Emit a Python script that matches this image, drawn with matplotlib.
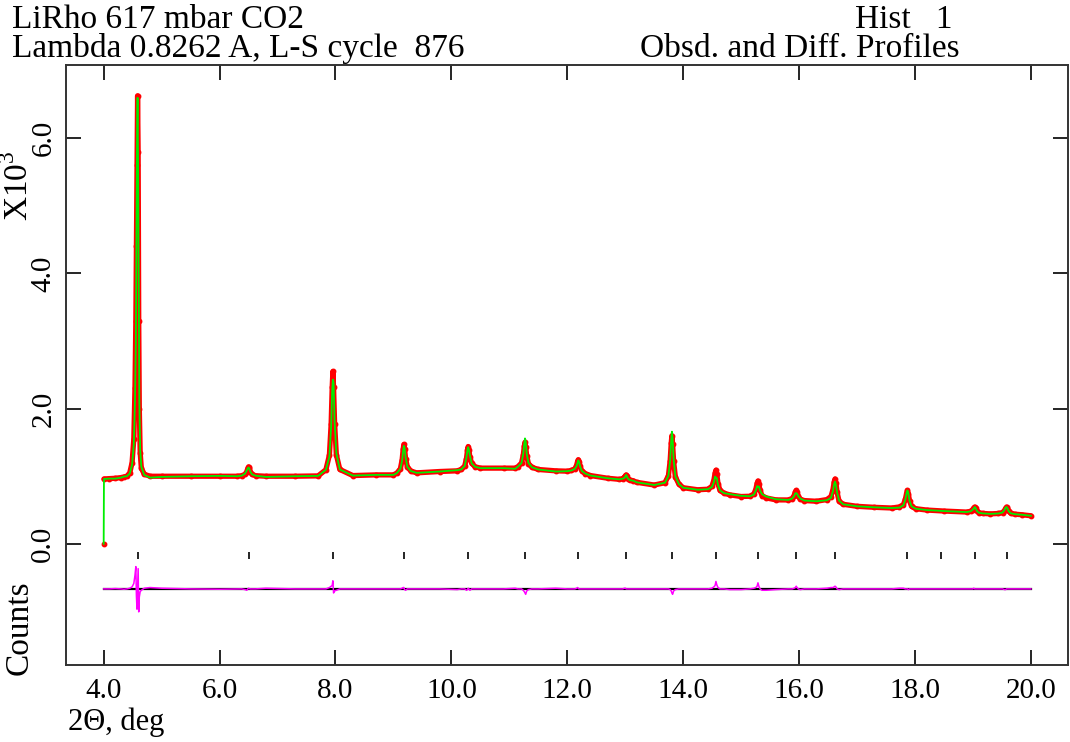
import matplotlib
matplotlib.use("Agg")
import matplotlib.pyplot as plt
from matplotlib.ticker import FixedLocator, FormatStrFormatter

plt.rcParams['font.family'] = ['Liberation Serif', 'DejaVu Serif']
plt.rcParams['mathtext.fontset'] = 'custom'
plt.rcParams['mathtext.rm'] = 'Liberation Serif'

# 2theta (deg), observed counts (x10^3), obs - calc
two_theta = [
    4.000, 4.005, 4.100, 4.200, 4.300, 4.350, 4.400, 4.450, 4.490, 4.520,
    4.540, 4.555, 4.565, 4.575, 4.585, 4.595, 4.605, 4.615, 4.630, 4.650,
    4.700, 4.800, 5.000, 5.500, 6.000, 6.300, 6.380, 6.440, 6.470, 6.488,
    6.500, 6.512, 6.530, 6.560, 6.620, 6.800, 7.300, 7.700, 7.835, 7.895,
    7.925, 7.943, 7.955, 7.967, 7.985, 8.015, 8.075, 8.300, 8.700, 9.000,
    9.060, 9.120, 9.150, 9.168, 9.180, 9.192, 9.210, 9.240, 9.300, 9.400,
    9.800, 10.100, 10.170, 10.230, 10.260, 10.278, 10.290, 10.302, 10.320, 10.350,
    10.410, 10.500, 10.900, 11.100, 11.150, 11.210, 11.240, 11.258, 11.270, 11.282,
    11.300, 11.330, 11.390, 11.500, 11.800, 12.000, 12.070, 12.130, 12.160, 12.178,
    12.190, 12.202, 12.220, 12.250, 12.310, 12.400, 12.700, 12.896, 12.956, 12.986,
    13.004, 13.016, 13.028, 13.046, 13.076, 13.136, 13.200, 13.500, 13.685, 13.745,
    13.775, 13.793, 13.805, 13.817, 13.835, 13.865, 13.925, 14.000, 14.250, 14.425,
    14.495, 14.529, 14.550, 14.565, 14.580, 14.601, 14.635, 14.705, 14.800, 15.000,
    15.150, 15.220, 15.254, 15.275, 15.290, 15.305, 15.326, 15.360, 15.430, 15.600,
    15.810, 15.880, 15.914, 15.935, 15.950, 15.965, 15.986, 16.020, 16.090, 16.300,
    16.480, 16.550, 16.584, 16.605, 16.620, 16.635, 16.656, 16.690, 16.760, 17.000,
    17.300, 17.600, 17.730, 17.800, 17.834, 17.855, 17.870, 17.885, 17.906, 17.940,
    18.010, 18.200, 18.500, 18.890, 18.960, 18.994, 19.015, 19.030, 19.045, 19.066,
    19.100, 19.170, 19.300, 19.440, 19.510, 19.544, 19.565, 19.580, 19.595, 19.616,
    19.650, 19.720, 19.850, 20.000,
]
obs = [
    0.000, 0.960, 0.965, 0.970, 0.980, 0.990, 1.000, 1.050, 1.200, 1.550,
    2.300, 3.300, 4.400, 5.600, 6.630, 5.800, 3.300, 2.000, 1.350, 1.120,
    1.030, 1.000, 1.000, 1.000, 1.000, 1.000, 1.008, 1.028, 1.070, 1.119,
    1.140, 1.119, 1.070, 1.028, 1.008, 1.000, 1.000, 1.005, 1.097, 1.313,
    1.775, 2.314, 2.550, 2.320, 1.780, 1.318, 1.100, 1.010, 1.020, 1.020,
    1.047, 1.110, 1.245, 1.400, 1.470, 1.410, 1.260, 1.140, 1.077, 1.050,
    1.070, 1.080, 1.100, 1.152, 1.260, 1.386, 1.440, 1.390, 1.280, 1.190,
    1.140, 1.120, 1.120, 1.120, 1.143, 1.196, 1.310, 1.443, 1.500, 1.435,
    1.300, 1.186, 1.133, 1.100, 1.080, 1.075, 1.085, 1.110, 1.160, 1.220,
    1.245, 1.215, 1.145, 1.080, 1.040, 1.010, 0.970, 0.954, 0.964, 0.985,
    1.010, 1.020, 1.000, 0.965, 0.944, 0.934, 0.910, 0.870, 0.904, 1.008,
    1.230, 1.490, 1.600, 1.480, 1.220, 0.990, 0.885, 0.830, 0.800, 0.808,
    0.850, 0.940, 1.045, 1.090, 1.030, 0.890, 0.790, 0.750, 0.725, 0.700,
    0.704, 0.738, 0.810, 0.894, 0.930, 0.890, 0.790, 0.715, 0.680, 0.650,
    0.649, 0.670, 0.715, 0.768, 0.790, 0.760, 0.705, 0.660, 0.640, 0.630,
    0.655, 0.700, 0.800, 0.915, 0.960, 0.900, 0.760, 0.630, 0.585, 0.555,
    0.540, 0.530, 0.546, 0.580, 0.660, 0.750, 0.790, 0.740, 0.635, 0.555,
    0.520, 0.500, 0.485, 0.470, 0.481, 0.505, 0.533, 0.545, 0.530, 0.490,
    0.461, 0.450, 0.443, 0.449, 0.463, 0.493, 0.528, 0.545, 0.525, 0.485,
    0.453, 0.439, 0.430, 0.415,
]
diff = [
    0.000, 0.000, 0.000, 0.005, 0.000, -0.005, 0.000, 0.010, 0.030, 0.080,
    0.200, 0.330, -0.100, -0.300, 0.030, 0.300, -0.340, -0.120, -0.040, -0.020,
    0.010, 0.020, 0.010, 0.000, -0.005, 0.000, 0.000, -0.010, -0.020, 0.000,
    0.010, 0.005, 0.000, 0.000, 0.000, 0.010, 0.000, 0.000, 0.000, 0.020,
    0.040, 0.050, 0.120, -0.060, -0.030, -0.020, 0.000, 0.000, 0.000, 0.000,
    0.000, 0.000, 0.010, 0.020, 0.020, -0.010, -0.020, 0.000, 0.000, 0.000,
    0.000, -0.010, 0.000, 0.000, -0.020, -0.010, 0.010, 0.000, -0.020, 0.000,
    0.000, 0.000, 0.000, 0.010, 0.000, 0.000, -0.020, -0.040, -0.060, -0.080,
    -0.030, -0.010, 0.000, 0.000, 0.010, 0.000, 0.000, 0.000, 0.010, 0.020,
    0.010, 0.000, 0.000, 0.000, 0.000, 0.000, 0.000, 0.000, 0.000, 0.010,
    0.010, 0.000, 0.000, 0.000, 0.000, 0.000, 0.000, 0.000, 0.000, 0.000,
    -0.010, -0.030, -0.060, -0.080, -0.030, -0.010, 0.000, 0.000, 0.000, 0.000,
    0.010, 0.030, 0.050, 0.110, 0.060, 0.020, 0.000, 0.000, -0.010, -0.010,
    0.000, 0.010, 0.020, 0.040, 0.090, 0.040, 0.000, -0.020, -0.020, -0.010,
    0.000, 0.000, 0.010, 0.020, 0.040, 0.020, 0.000, -0.010, 0.000, 0.000,
    0.010, 0.020, 0.020, 0.030, 0.040, 0.030, 0.000, -0.010, 0.000, 0.000,
    0.000, 0.000, 0.010, 0.010, 0.000, 0.000, 0.000, -0.010, 0.000, 0.000,
    0.000, 0.000, 0.000, 0.000, 0.000, 0.000, 0.010, 0.000, 0.000, 0.000,
    0.000, 0.000, 0.000, 0.000, 0.000, -0.010, -0.010, 0.000, 0.000, 0.000,
    0.000, 0.000, 0.000, 0.000,
]
calc = [o - d for o, d in zip(obs, diff)]

# reflection positions (2theta)
reflections = [4.585, 6.50, 7.955, 9.175, 10.285, 11.263, 12.18, 13.016, 13.805,
               14.565, 15.29, 15.95, 16.62, 17.87, 18.45, 19.03, 19.58]

diff_offset = -0.667
x_ticks = [4.0, 6.0, 8.0, 10.0, 12.0, 14.0, 16.0, 18.0, 20.0]
y_ticks = [0.0, 2.0, 4.0, 6.0]

fig = plt.figure(figsize=(10.7, 7.42), dpi=100)
ax = fig.add_axes([66 / 1070, 77 / 742, 1002 / 1070, 600 / 742])

# observed: thick red band of points
ax.plot(two_theta[1:], obs[1:], color="red", lw=3.8, solid_capstyle="round", zorder=2)
ax.plot(two_theta, obs, "o", color="red", ms=3.2, zorder=2)
# calculated
ax.plot(two_theta, calc, color="#00ee00", lw=1.3, zorder=3)

# reflection markers
ax.vlines(reflections, -0.23, -0.12, color="black", lw=1.2)

# difference curve
ax.plot([two_theta[0], two_theta[-1]], [diff_offset, diff_offset], color="black", lw=1.6, zorder=3)
ax.plot(two_theta, [diff_offset + d for d in diff], color="magenta", lw=1.1, zorder=4)

ax.set_xlim(3.35, 20.64)
ax.set_ylim(-1.793, 7.085)
ax.xaxis.set_major_locator(FixedLocator(x_ticks))
ax.yaxis.set_major_locator(FixedLocator(y_ticks))
ax.xaxis.set_major_formatter(FormatStrFormatter("%.1f"))
ax.yaxis.set_major_formatter(FormatStrFormatter("%.1f"))
ax.tick_params(direction="in", length=11, width=1.2, top=True, right=True,
               labelsize=21)
ax.tick_params(axis="x", pad=9)
ax.tick_params(axis="y", pad=7)
for lbl in ax.get_yticklabels():
    lbl.set_rotation(90)
    lbl.set_va("center")
for sp in ax.spines.values():
    sp.set_linewidth(1.4)
    sp.set_color("#333333")

fs = 24
fig.text(12 / 1070, 1 - 28 / 742, "LiRho 617 mbar CO2", fontsize=fs, va="baseline")
fig.text(12 / 1070, 1 - 57 / 742, "Lambda 0.8262 A, L-S cycle  876", fontsize=fs, va="baseline")
fig.text(855 / 1070, 1 - 28 / 742, "Hist   1", fontsize=fs, va="baseline")
fig.text(640 / 1070, 1 - 57 / 742, "Obsd. and Diff. Profiles", fontsize=fs, va="baseline")
fig.text(19 / 1070, 1 - 186 / 742, r"X10$^{\mathrm{3}}$", fontsize=fs, rotation=90,
         ha="center", va="center")
fig.text(19 / 1070, 1 - 628 / 742, "Counts", fontsize=fs, rotation=90,
         ha="center", va="center")
fig.text(68 / 1070, 1 - 730 / 742, "2Θ, deg", fontsize=22, va="baseline")

fig.savefig("out.png", dpi=100)
